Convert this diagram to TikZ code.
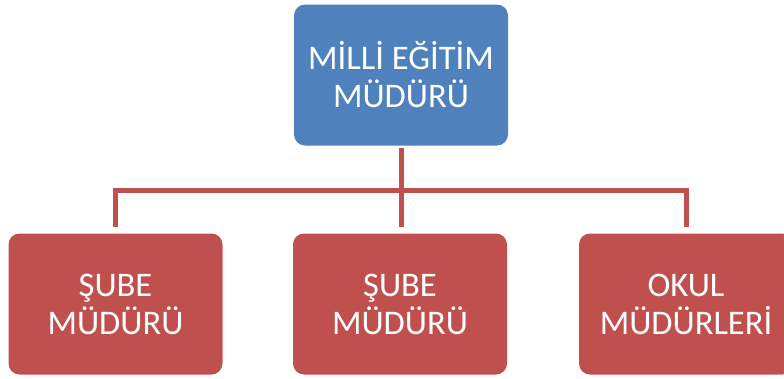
\documentclass[tikz,border=0pt]{standalone}
\usepackage{fontspec}
\setmainfont{Carlito}
\definecolor{boxblue}{HTML}{4F81BD}
\definecolor{boxred}{HTML}{C0504D}
\begin{document}
\begin{tikzpicture}[x=1pt,y=-1pt,
  orgbox/.style={rounded corners=11pt, minimum width=214pt, minimum height=141pt,
    inner sep=0pt, text=white, align=center, font=\fontsize{34.5}{38}\selectfont},
  topbox/.style={orgbox, fill=boxblue},
  subbox/.style={orgbox, fill=boxred},
  link/.style={draw=boxred, line width=5pt}]
\useasboundingbox (0,0) rectangle (784,378);
\node[topbox] (top) at (401,75) {MİLLİ EĞİTİM\\MÜDÜRÜ};
\node[subbox] (s1) at (115.5,304) {ŞUBE\\MÜDÜRÜ};
\node[subbox] (s2) at (400,304) {ŞUBE\\MÜDÜRÜ};
\node[subbox] (s3) at (686,304) {OKUL\\MÜDÜRLERİ};
\coordinate (bus) at (401,190);
\draw[link, shorten <=2pt] (top.south) -- (bus);
\draw[link, shorten <=6pt, shorten >=6pt] (s1.north) |- (bus) -| (s3.north);
\draw[link, shorten >=6pt] (bus) -- (bus |- s2.north);
\end{tikzpicture}
\end{document}
